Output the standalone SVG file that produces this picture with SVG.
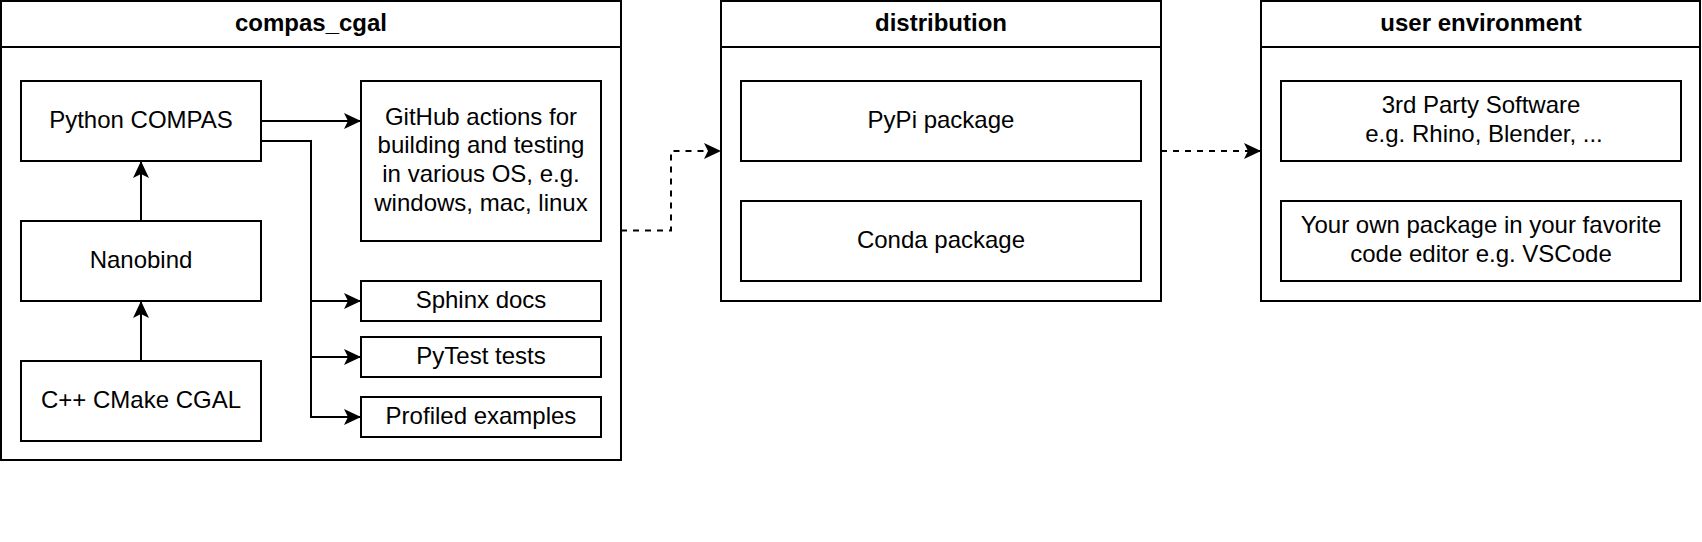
<svg xmlns="http://www.w3.org/2000/svg" width="1702" height="542" viewBox="0 0 1702 542">
<style>
.box{fill:#ffffff;stroke:#000000;stroke-width:2}
.t{font-family:"Liberation Sans",Arial,sans-serif;font-size:24px;fill:#000000;text-anchor:middle}
.h{font-family:"Liberation Sans",Arial,sans-serif;font-size:24px;font-weight:bold;fill:#000000;text-anchor:middle}
.e{fill:none;stroke:#000000;stroke-width:2}
.d{stroke-dasharray:6 6}
</style>
<defs>
<marker id="arr" markerUnits="userSpaceOnUse" markerWidth="20" markerHeight="18" viewBox="-18 -9 20 18" refX="0" refY="0" orient="auto">
<path d="M0,0 L-17,-8 L-13,0 L-17,8 Z" fill="#000000" stroke="none"/>
</marker>
</defs>
<rect width="1702" height="542" fill="#ffffff"/>
<g id="compas_cgal">
<rect class="box" x="1" y="1" width="620" height="459"/>
<line class="e" x1="1" y1="47" x2="621" y2="47"/>
<text class="h" x="311" y="31">compas_cgal</text>
</g>
<g id="python_compas">
<rect class="box" x="21" y="81" width="240" height="80"/>
<text class="t" x="141" y="127.5">Python COMPAS</text>
</g>
<g id="nanobind">
<rect class="box" x="21" y="221" width="240" height="80"/>
<text class="t" x="141" y="267.5">Nanobind</text>
</g>
<g id="cpp_cgal">
<rect class="box" x="21" y="361" width="240" height="80"/>
<text class="t" x="141" y="407.5">C++ CMake CGAL</text>
</g>
<g id="github_actions">
<rect class="box" x="361" y="81" width="240" height="160"/>
<text class="t" x="481" y="124.5">GitHub actions for</text>
<text class="t" x="481" y="153.3">building and testing</text>
<text class="t" x="481" y="182.1">in various OS, e.g.</text>
<text class="t" x="481" y="210.9">windows, mac, linux</text>
</g>
<g id="sphinx_docs">
<rect class="box" x="361" y="281" width="240" height="40"/>
<text class="t" x="481" y="307.5">Sphinx docs</text>
</g>
<g id="pytest_tests">
<rect class="box" x="361" y="337" width="240" height="40"/>
<text class="t" x="481" y="363.5">PyTest tests</text>
</g>
<g id="profiled_examples">
<rect class="box" x="361" y="397" width="240" height="40"/>
<text class="t" x="481" y="423.5">Profiled examples</text>
</g>
<g id="distribution">
<rect class="box" x="721" y="1" width="440" height="300"/>
<line class="e" x1="721" y1="47" x2="1161" y2="47"/>
<text class="h" x="941" y="31">distribution</text>
</g>
<g id="pypi">
<rect class="box" x="741" y="81" width="400" height="80"/>
<text class="t" x="941" y="127.5">PyPi package</text>
</g>
<g id="conda">
<rect class="box" x="741" y="201" width="400" height="80"/>
<text class="t" x="941" y="247.5">Conda package</text>
</g>
<g id="user_environment">
<rect class="box" x="1261" y="1" width="439" height="300"/>
<line class="e" x1="1261" y1="47" x2="1700" y2="47"/>
<text class="h" x="1481" y="31">user environment</text>
</g>
<g id="third_party">
<rect class="box" x="1281" y="81" width="400" height="80"/>
<text class="t" x="1481" y="113.3">3rd Party Software</text>
<text class="t" x="1484" y="142.1">e.g. Rhino, Blender, ...</text>
</g>
<g id="own_package">
<rect class="box" x="1281" y="201" width="400" height="80"/>
<text class="t" x="1481" y="233.3">Your own package in your favorite</text>
<text class="t" x="1481" y="262.1">code editor e.g. VSCode</text>
</g>
<g id="connectors">
<path class="e" d="M261,121 L361,121" marker-end="url(#arr)"/>
<path class="e" d="M261,141 L311,141 L311,301 L361,301" marker-end="url(#arr)"/>
<path class="e" d="M261,141 L311,141 L311,357 L361,357" marker-end="url(#arr)"/>
<path class="e" d="M261,141 L311,141 L311,417 L361,417" marker-end="url(#arr)"/>
<path class="e" d="M141,221 L141,161" marker-end="url(#arr)"/>
<path class="e" d="M141,361 L141,301" marker-end="url(#arr)"/>
<path class="e d" d="M621,230.5 L671,230.5 L671,151 L721,151" marker-end="url(#arr)"/>
<path class="e d" d="M1161,151 L1261,151" marker-end="url(#arr)"/>
</g>
</svg>
